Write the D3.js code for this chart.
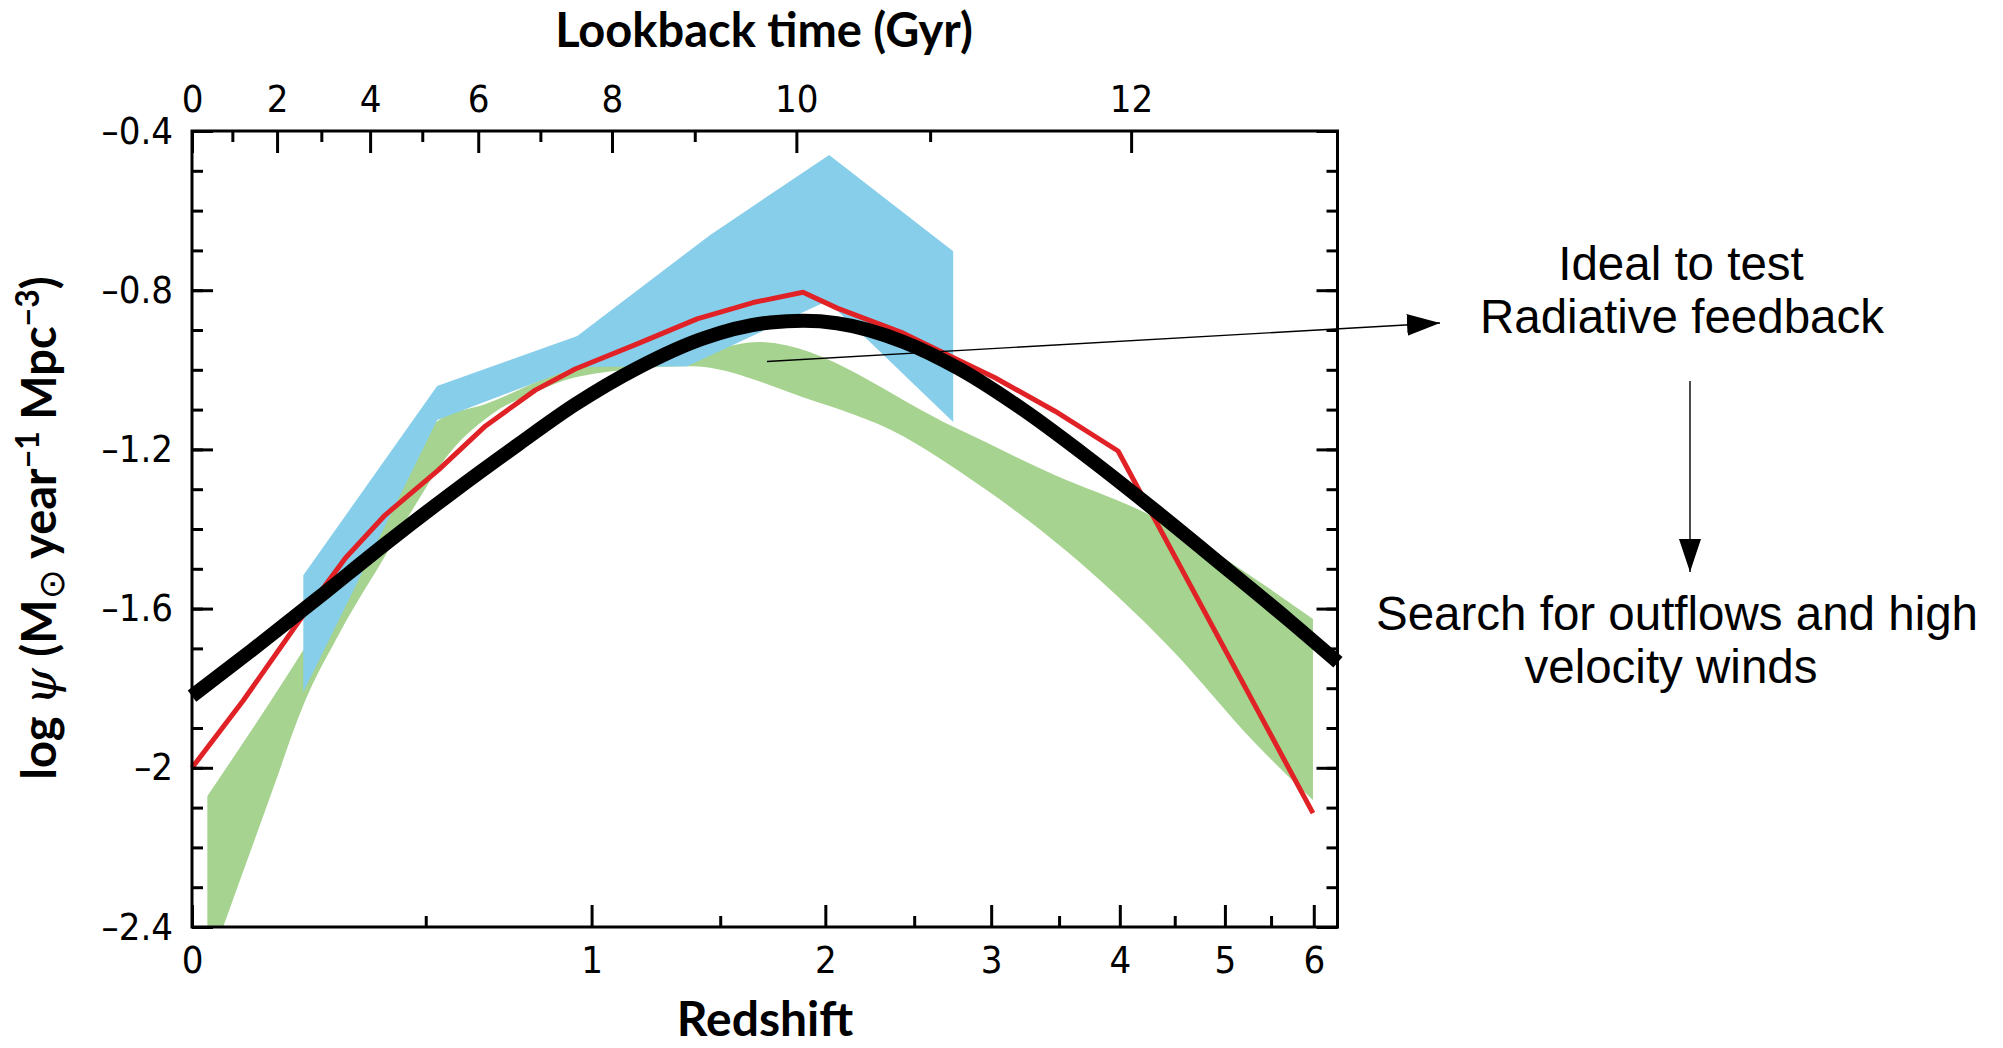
<!DOCTYPE html>
<html>
<head>
<meta charset="utf-8">
<script src="https://cdn.jsdelivr.net/npm/d3@7"></script>
<style>
  body { margin: 0; background: #fff; }
  svg { display: block; }
</style>
</head>
<body>
<div id="chart"></div>
<script>
// ---- data (redshift z, log psi) ----
const blackZ   = [0, 0.11, 0.245, 0.398, 0.57, 0.762, 0.944, 1.164, 1.428, 1.727, 1.888, 2.061, 2.436, 2.791, 3.219, 3.734, 4.315, 4.968, 5.698, 6.3];
const blackPsi = [-1.82, -1.704, -1.573, -1.438, -1.309, -1.187, -1.087, -0.996, -0.921, -0.881, -0.877, -0.883, -0.93, -0.999, -1.098, -1.221, -1.353, -1.49, -1.628, -1.735];

const redZ   = [0, 0.093, 0.213, 0.305, 0.398, 0.533, 0.664, 0.814, 0.944, 1.165, 1.402, 1.647, 1.886, 2.062, 2.434, 2.791, 3.027, 3.469, 3.985, 5.99];
const redPsi = [-2.0, -1.831, -1.616, -1.473, -1.365, -1.252, -1.141, -1.051, -0.998, -0.935, -0.872, -0.831, -0.805, -0.845, -0.908, -0.978, -1.02, -1.104, -1.204, -2.114];

const blueUpZ   = [0.213, 0.53, 0.951, 1.457, 2.02, 2.745];
const blueUpPsi = [-1.516, -1.041, -0.915, -0.661, -0.46, -0.702];
const blueLoZ   = [0.213, 0.53, 0.948, 1.361, 2.01, 2.745];
const blueLoPsi = [-1.81, -1.126, -0.993, -0.991, -0.827, -1.131];

const greenUpZ   = [0.027, 0.213, 0.53, 0.664, 0.948, 1.373, 1.667, 2.757, 3.469, 4.194, 5.99];
const greenUpPsi = [-2.071, -1.704, -1.129, -1.086, -0.996, -0.965, -0.93, -1.145, -1.265, -1.355, -1.626];
const greenLoZ   = [0.027, 0.056, 0.15, 0.213, 0.293, 0.398, 0.481, 0.552, 0.678, 0.814, 0.961, 1.373, 1.886, 2.434, 2.791, 3.548, 4.474, 5.322, 5.99];
const greenLoPsi = [-2.51, -2.398, -2.056, -1.843, -1.659, -1.468, -1.327, -1.222, -1.114, -1.056, -1.016, -0.991, -1.069, -1.167, -1.257, -1.453, -1.704, -1.938, -2.081];

// ---- axis ticks ----
const redshiftMajor = [0, 1, 2, 3, 4, 5, 6];
const redshiftMinor = [0.5, 1.5, 2.5, 3.5, 4.5, 5.5];
const lookbackMajor  = [0, 2, 4, 6, 8, 10, 12];
const lookbackMajorZ = [0, 0.159, 0.362, 0.643, 1.072, 1.853, 4.099];
const lookbackMinorZ = [0.0725, 0.2515, 0.491, 0.83, 1.392, 2.598];
const psiMajor = [-0.4, -0.8, -1.2, -1.6, -2, -2.4];
const psiMinor = d3.range(-24, -3).map(d => d / 10);

// ---- layout ----
const W = 2003, H = 1048;
const plotL = 192, plotR = 1337.5, plotT = 131, plotB = 927;
const tickFont = '"Liberation Sans Narrow", "DejaVu Sans Condensed", sans-serif';
const titleFont = 'Lato, "Open Sans", sans-serif';
const noteFont = '"Liberation Sans", Arial, sans-serif';

const x = d3.scaleLog().domain([1, 7.294]).range([plotL, plotR]);
const X = z => x(1 + z);
const y = d3.scaleLinear().domain([-2.4, -0.4]).range([plotB, plotT]);

const svg = d3.select("#chart").append("svg")
  .attr("width", W)
  .attr("height", H)
  .attr("viewBox", `0 0 ${W} ${H}`);

const defs = svg.append("defs");
defs.append("clipPath").attr("id", "plotclip")
  .append("rect")
  .attr("x", plotL).attr("y", plotT)
  .attr("width", plotR - plotL).attr("height", plotB - plotT);

defs.append("marker")
  .attr("id", "head")
  .attr("viewBox", "0 0 33 22")
  .attr("refX", 33).attr("refY", 11)
  .attr("markerWidth", 33).attr("markerHeight", 22)
  .attr("markerUnits", "userSpaceOnUse")
  .attr("orient", "auto")
  .append("path")
  .attr("d", "M0,0L33,11L0,22Z")
  .attr("fill", "#000");

const pts = (zs, vs) => zs.map((z, i) => [z, vs[i]]);

const lineLin = d3.line().x(d => X(d[0])).y(d => y(d[1]));
const lineSmooth = d3.line().x(d => X(d[0])).y(d => y(d[1])).curve(d3.curveMonotoneX);

const bands = svg.append("g").attr("clip-path", "url(#plotclip)");

// green band (smooth edges)
const gUp = pts(greenUpZ, greenUpPsi);
const gLo = pts(greenLoZ, greenLoPsi).reverse();
bands.append("path")
  .attr("d", lineSmooth(gUp) + "L" + lineSmooth(gLo).slice(1) + "Z")
  .attr("fill", "#a6d38f");

// blue band (straight segments)
const bUp = pts(blueUpZ, blueUpPsi);
const bLo = pts(blueLoZ, blueLoPsi).reverse();
bands.append("path")
  .attr("d", lineLin(bUp.concat(bLo)) + "Z")
  .attr("fill", "#87ceeb");

// red model
svg.append("path")
  .attr("d", lineLin(pts(redZ, redPsi)))
  .attr("fill", "none")
  .attr("stroke", "#e02226")
  .attr("stroke-width", 5)
  .attr("stroke-linejoin", "round");

// black fit
svg.append("path")
  .attr("d", lineSmooth(pts(blackZ, blackPsi)))
  .attr("fill", "none")
  .attr("stroke", "#000")
  .attr("stroke-width", 14);

// frame
svg.append("rect")
  .attr("x", plotL).attr("y", plotT)
  .attr("width", plotR - plotL).attr("height", plotB - plotT)
  .attr("fill", "none")
  .attr("stroke", "#000")
  .attr("stroke-width", 3);

function styleAxis(g) {
  g.select(".domain").remove();
  g.selectAll(".tick line").attr("stroke", "#000").attr("stroke-width", 3);
  g.selectAll(".tick text")
    .attr("font-family", tickFont)
    .attr("font-size", 38)
    .attr("fill", "#000");
}

// bottom: redshift
svg.append("g").attr("transform", `translate(0,${plotB})`)
  .call(d3.axisBottom(x).tickValues(redshiftMajor.map(z => 1 + z))
    .tickFormat((d, i) => redshiftMajor[i]).tickSize(-22).tickPadding(19))
  .call(styleAxis);
svg.append("g").attr("transform", `translate(0,${plotB})`)
  .call(d3.axisBottom(x).tickValues(redshiftMinor.map(z => 1 + z))
    .tickFormat("").tickSize(-11))
  .call(styleAxis);

// top: lookback time
svg.append("g").attr("transform", `translate(0,${plotT})`)
  .call(d3.axisTop(x).tickValues(lookbackMajorZ.map(z => 1 + z))
    .tickFormat((d, i) => lookbackMajor[i]).tickSize(-22).tickPadding(19))
  .call(styleAxis);
svg.append("g").attr("transform", `translate(0,${plotT})`)
  .call(d3.axisTop(x).tickValues(lookbackMinorZ.map(z => 1 + z))
    .tickFormat("").tickSize(-11))
  .call(styleAxis);

// left / right: log psi
const fmtPsi = d => "\u2013" + String(Math.abs(d));
svg.append("g").attr("transform", `translate(${plotL},0)`)
  .call(d3.axisLeft(y).tickValues(psiMajor).tickFormat(fmtPsi).tickSize(-21).tickPadding(19))
  .call(styleAxis);
svg.append("g").attr("transform", `translate(${plotL},0)`)
  .call(d3.axisLeft(y).tickValues(psiMinor).tickFormat("").tickSize(-11))
  .call(styleAxis);
svg.append("g").attr("transform", `translate(${plotR},0)`)
  .call(d3.axisRight(y).tickValues(psiMajor).tickFormat("").tickSize(-21))
  .call(styleAxis);
svg.append("g").attr("transform", `translate(${plotR},0)`)
  .call(d3.axisRight(y).tickValues(psiMinor).tickFormat("").tickSize(-11))
  .call(styleAxis);

// axis titles
svg.append("text")
  .attr("x", 764).attr("y", 47)
  .attr("text-anchor", "middle")
  .attr("font-family", titleFont).attr("font-weight", "bold").attr("font-size", 47)
  .text("Lookback time (Gyr)");

svg.append("text")
  .attr("x", 765).attr("y", 1036)
  .attr("text-anchor", "middle")
  .attr("font-family", titleFont).attr("font-weight", "bold").attr("font-size", 48)
  .text("Redshift");

const ylab = svg.append("text")
  .attr("transform", "translate(56,528) rotate(-90)")
  .attr("text-anchor", "middle")
  .attr("font-family", titleFont).attr("font-weight", "bold").attr("font-size", 47);
ylab.append("tspan").text("log ");
ylab.append("tspan").attr("font-family", '"DejaVu Serif", serif').attr("font-style", "italic")
  .attr("font-weight", "normal").text("\u03c8");
ylab.append("tspan").text(" (M");
ylab.append("tspan").attr("font-family", '"DejaVu Sans", sans-serif').attr("font-weight", "normal")
  .attr("font-size", 36).attr("dy", 8).text("\u2299");
ylab.append("tspan").attr("dy", -8).text(" year");
ylab.append("tspan").attr("font-size", 32).attr("dy", -17).text("\u22121");
ylab.append("tspan").attr("dy", 17).text(" Mpc");
ylab.append("tspan").attr("font-size", 32).attr("dy", -17).text("\u22123");
ylab.append("tspan").attr("dy", 17).text(")");

// annotations
const notes = [
  { x: 1681, y: 280, t: "Ideal to test" },
  { x: 1682, y: 333, t: "Radiative feedback" },
  { x: 1677, y: 630, t: "Search for outflows and high" },
  { x: 1671, y: 683, t: "velocity winds" }
];
svg.selectAll("text.note").data(notes).enter().append("text")
  .attr("class", "note")
  .attr("x", d => d.x).attr("y", d => d.y)
  .attr("text-anchor", "middle")
  .attr("font-family", noteFont).attr("font-size", 47.5)
  .text(d => d.t);

svg.append("line")
  .attr("x1", 767).attr("y1", 361.5).attr("x2", 1440).attr("y2", 323)
  .attr("stroke", "#000").attr("stroke-width", 1.4)
  .attr("marker-end", "url(#head)");
svg.append("line")
  .attr("x1", 1690).attr("y1", 381).attr("x2", 1690).attr("y2", 572)
  .attr("stroke", "#000").attr("stroke-width", 1.4)
  .attr("marker-end", "url(#head)");
</script>
</body>
</html>
